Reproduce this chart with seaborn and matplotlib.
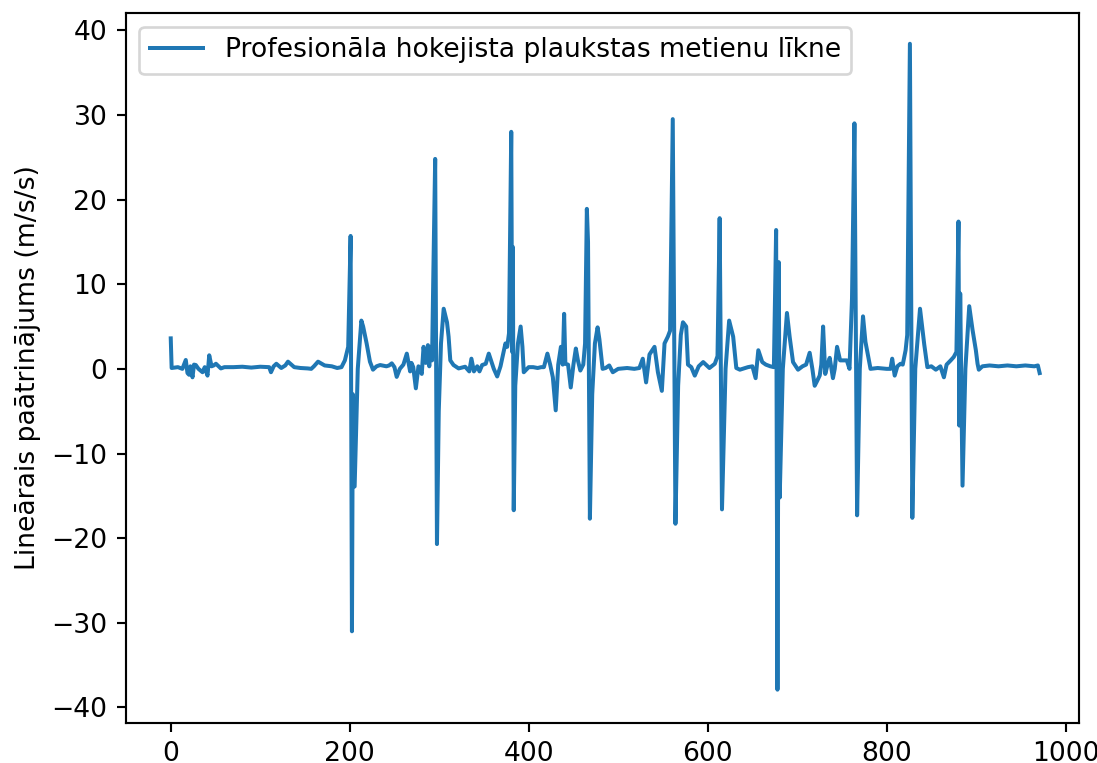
import matplotlib
matplotlib.use("Agg")
import matplotlib.pyplot as plt
import seaborn as sns

# Key points (sample index, acceleration m/s/s)
t = [0, 1, 8, 13, 16.8, 18.7, 20.5, 22, 24.3, 26, 28, 31, 35.5, 38, 41.1, 43, 45.6, 48, 50.5, 56, 60,
     70, 80, 90, 100, 110, 112, 115, 118, 123.5, 128, 131, 138, 145, 153, 157, 160, 164.6, 172, 180,
     186, 190.8, 194.6, 198.3, 201, 202.5, 203.5, 205.5, 209, 213, 215, 218.9, 222.6, 226, 230, 234,
     241, 244, 247, 250, 252.5, 256, 260, 263.8, 267.5, 269, 271, 273.9, 276.8, 280.5, 282.5, 285,
     287.4, 288.9, 290, 292, 293.5, 295.5, 297.5, 299.5, 302, 305, 308.7, 310.5, 312.4, 316, 321.7,
     329, 333.6, 336, 338.8, 342.5, 345, 348, 352, 355.4, 361, 364.8, 368.5, 372, 374, 376, 378,
     380.5, 381.5, 382.3, 383.3, 385, 388, 391, 393, 394.5,
     400, 405, 410, 414, 417, 420.9, 424, 427, 430.2, 433, 436, 438, 439.6, 441, 444, 447, 450, 452.7,
     455, 457.7, 461, 463, 465, 466.3, 468.4, 471, 474, 477, 479, 482.6, 486, 490, 494, 500, 510, 518,
     523.7, 527.5, 531.2, 535, 540.6, 544.4, 548.8, 551.8, 555.5, 558, 561, 564, 567, 570, 572.4, 576,
     578, 581.7, 585.6, 590, 595, 602, 608, 611, 613.4, 616, 620, 624, 628.5, 632, 636, 645, 650, 653.6,
     656.6, 661, 665, 670, 674, 676.5, 678, 679.5, 680.5, 684, 688.6, 691.6, 695.4, 701, 706, 710, 714,
     717, 719.6, 722, 725.2, 727, 729, 731.4, 734, 736.4, 740, 742, 744.6, 748, 751, 755.5, 758.5,
     761.3, 764, 767, 770, 773.6, 776.3, 782, 790, 800, 804.3, 806.2, 809, 812, 815.5, 818, 821.2, 823,
     826, 828.7, 832, 837.3, 842, 845.5, 850, 855, 860, 864, 867, 871.6, 875, 878, 880.3, 881.2, 882.2,
     884.8, 888, 892.3, 896, 899.7, 901.6, 903, 907, 915, 925, 935, 945, 955, 965, 969, 971]
accel = [3.6, 0.1, 0.2, 0.0, 1.05, -0.5, -0.7, 0.3, -1.0, 0.5, 0.45, 0.0, -0.4, 0.2, -0.8, 1.6, 0.3,
         0.4, 0.6, 0.05, 0.2,
         0.2, 0.25, 0.15, 0.25, 0.2, -0.4, 0.3, 0.6, 0.1, 0.4, 0.85, 0.2, 0.1, 0.05, 0.0, 0.3, 0.85, 0.4,
         0.3, 0.1, 0.2, 1.0, 2.6, 15.7, -31.0, -3.0, -13.9, 0.0, 5.7, 5.0, 3.0, 0.85, -0.1, 0.3, 0.45,
         0.3, 0.4, 0.65, 0.2, -0.95, 0.0, 0.5, 1.8, -0.3, 0.7, 0.2, -2.3, 0.3, -0.6, 2.6, 0.7,
         2.8, 0.3, 2.6, 1.0, 11.6, 24.8, -20.7, -5.0, 3.0, 7.1, 5.5, 3.8, 1.0, 0.45, 0.05,
         0.25, -0.3, 1.2, -0.3, 0.3, -0.3, 0.45, 0.6, 1.8, 0.0, -0.9, 0.3, 2.0, 3.0, 2.6, 4.2,
         28.0, 2.0, 14.4, -16.7, -2.0, 3.0, 5.0, 2.6, -0.4,
         0.2, 0.2, 0.1, 0.2, 0.2, 1.8, 0.5, -1.0, -4.9, 0.5, 2.6, 0.5, 6.5, 0.6, 0.5, -2.2, 0.5, 2.4,
         1.0, -0.2, 0.5, 3.0, 18.9, 15.0, -17.7, -3.0, 3.0, 4.9, 3.5, 0.0, 0.1, 0.4, -0.4, 0.0, 0.1, 0.0,
         0.1, 1.2, -1.6, 1.7, 2.6, -0.4, -2.6, 3.0, 3.8, 4.5, 29.5, -18.3, -2.0, 4.0, 5.5, 5.0,
         0.5, 0.2, -0.8, 0.3, 0.8, 0.1, 0.6, 1.5, 17.8, -16.6, 0.0, 5.7, 3.8, 0.1, -0.1, 0.2, 0.3, -1.1,
         2.2, 0.8, 0.5, 0.3, 0.2, 16.4, -37.9, 12.6, -15.2, 0.0, 6.6, 3.8, 0.8, -0.1, 0.3, 0.5, 1.9,
         0.0, -2.0, -1.5, -0.8, 0.5, 5.0, -0.6, 0.5, 1.3, -1.1, 0.0, 2.6, 1.0, 1.0, 1.0, 0.0,
         8.3, 29.0, -17.3, 0.0, 6.2, 3.2, 0.0, 0.1, 0.0, 0.0, 1.2, -0.8, 0.3, 0.6, 0.5, 2.2, 4.0,
         38.4, -17.6, 0.0, 7.1, 2.9, 0.2, 0.3, -0.1, 0.3, -1.0, 0.5, 1.0, 1.4, 2.0, 17.4, -6.7, 8.9,
         -13.8, 0.0, 7.4, 4.6, 2.2, 0.6, -0.1, 0.3, 0.4, 0.3, 0.4, 0.3, 0.4, 0.3, 0.4, -0.5]

series_label = "Profesionāla hokejista plaukstas metienu līkne"
y_label = "Lineārais paātrinājums (m/s/s)"

DPI = 192
fig = plt.figure(figsize=(1097 / DPI, 763 / DPI), dpi=DPI)
ax = fig.add_axes([126 / 1097, (763 - 722.7) / 763, (1079.3 - 126) / 1097, (722.7 - 13.3) / 763])

sns.lineplot(x=t, y=accel, ax=ax, label=series_label, color="#1f77b4", linewidth=1.5,
             sort=False, estimator=None)

ax.set_xlim(-50, 1015.3)
ax.set_ylim(-41.8, 42.0)
ax.set_ylabel(y_label)
ax.set_xlabel("")
ax.legend(loc="upper left")

fig.savefig("out.png", dpi=DPI)
